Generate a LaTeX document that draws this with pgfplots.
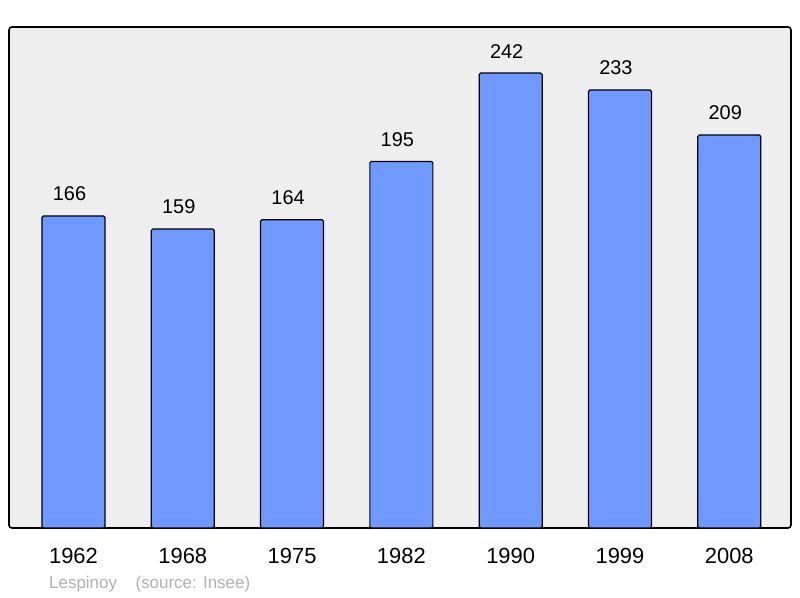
\documentclass[border=0pt]{standalone}
\usepackage{fontspec}
\setmainfont{Liberation Sans}
\usepackage{pgfplots}
\pgfplotsset{compat=1.18}
\definecolor{barblue}{RGB}{112,153,255}
\definecolor{plotbg}{RGB}{238,238,238}
\definecolor{srcgray}{RGB}{176,176,176}

\begin{document}
\begin{tikzpicture}[x=1bp,y=1bp]
  \begin{axis}[
    scale only axis,
    width=782bp, height=501bp,
    xmin=-0.59, xmax=6.565,
    ymin=0, ymax=266.5,
    axis background/.style={fill=plotbg},
    axis line style={line width=1.6bp, rounded corners=3bp},
    xtick={0,...,6},
    xticklabels={1962,1968,1975,1982,1990,1999,2008},
    x tick label style={font=\fontsize{22}{26}\selectfont, anchor=center, yshift=-28bp},
    ytick=\empty,
    major tick length=0pt,
    ybar, bar width=63bp,
    nodes near coords,
    /pgf/number format/assume math mode=true,
    every node near coord/.append style={font=\fontsize{20}{24}\selectfont, anchor=center, yshift=22bp, xshift=-4bp},
    clip=false,
  ]
    \addplot[fill=barblue, draw=black, line width=1.2bp, rounded corners=1.5bp] coordinates {
      (0,166) (1,159) (2,164) (3,195) (4,242) (5,233) (6,209)
    };
    \path[use as bounding box] (rel axis cs:-0.0115,-0.1397) rectangle (rel axis cs:1.0115,1.0539);
    \node[anchor=west, text=srcgray, font=\fontsize{17}{20}\selectfont, inner sep=0pt]
      at (rel axis cs:0.0512,-0.1118) {Lespinoy\hspace{1.1em}(source: Insee)};
  \end{axis}
\end{tikzpicture}
\end{document}
